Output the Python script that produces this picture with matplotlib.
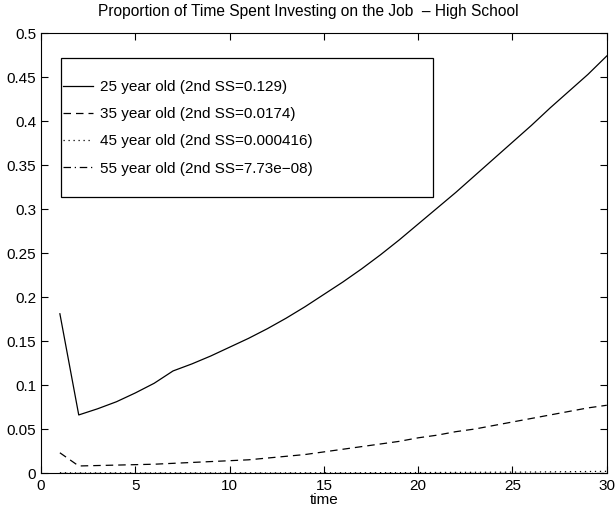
import matplotlib
matplotlib.use('Agg')
import matplotlib.pyplot as plt
from matplotlib.patches import Rectangle
import numpy as np

time = np.arange(1, 31)

age25 = [0.181, 0.066, 0.073, 0.081, 0.091, 0.102, 0.116, 0.124, 0.133, 0.143,
         0.153, 0.164, 0.176, 0.189, 0.203, 0.217, 0.232, 0.248, 0.265, 0.283,
         0.301, 0.319, 0.338, 0.357, 0.376, 0.395, 0.415, 0.434, 0.453, 0.474]
age35 = [0.023, 0.008, 0.0085, 0.009, 0.0095, 0.010, 0.011, 0.012, 0.013, 0.014,
         0.015, 0.017, 0.019, 0.021, 0.024, 0.027, 0.030, 0.033, 0.036, 0.040,
         0.043, 0.047, 0.050, 0.054, 0.058, 0.062, 0.066, 0.070, 0.074, 0.077]
age45 = [0.0003, 0.0001, 0.0001, 0.0001, 0.0001, 0.0001, 0.0001, 0.0001, 0.0001, 0.0001,
         0.0001, 0.0001, 0.0002, 0.0002, 0.0002, 0.0003, 0.0003, 0.0004, 0.0004, 0.0005,
         0.0006, 0.0007, 0.0008, 0.0009, 0.0010, 0.0011, 0.0013, 0.0015, 0.0017, 0.0019]
age55 = [0.0] * 30

labels = ['25 year old (2nd SS=0.129)',
          '35 year old (2nd SS=0.0174)',
          '45 year old (2nd SS=0.000416)',
          '55 year old (2nd SS=7.73e\u221208)']

plt.rcParams['font.family'] = ['Liberation Sans', 'DejaVu Sans']

fig = plt.figure(figsize=(6.16, 5.09), dpi=100)
ax = fig.add_axes([0.0666, 0.0707, 0.9184, 0.8643])

ax.plot(time, age25, color='black', lw=0.9, linestyle='-', label=labels[0])
ax.plot(time, age35, color='black', lw=0.9, linestyle=(0, (6, 4)), label=labels[1])
ax.plot(time, age45, color='black', lw=0.9, linestyle=(0, (1, 3)), label=labels[2])
ax.plot(time, age55, color='black', lw=0.9, linestyle=(0, (6, 3, 1, 3)), label=labels[3])

ax.set_xlim(0, 30)
ax.set_ylim(0, 0.5)
ax.set_xticks(np.arange(0, 31, 5))
yt = np.arange(0, 0.501, 0.05)
ax.set_yticks(yt)
ax.set_yticklabels(['0'] + ['%g' % v for v in yt[1:]])
ax.tick_params(direction='in', top=True, right=True, labelsize=11, length=5)
ax.tick_params(axis='x', pad=4)
ax.set_xlabel('time', fontsize=11, labelpad=0)
ax.set_title('Proportion of Time Spent Investing on the Job  \u2013 High School',
             fontsize=11.2, pad=12, x=0.472)

# MATLAB-style legend: wide frame drawn separately, entries inside
ax.add_patch(Rectangle((0.0353, 0.627), 0.6573, 0.316, transform=ax.transAxes,
                       fill=True, facecolor='white', edgecolor='black',
                       lw=0.9, zorder=4))
leg = ax.legend(loc='upper left', bbox_to_anchor=(0.038, 0.893), fontsize=11,
                frameon=False, borderpad=0, labelspacing=0.86,
                handlelength=2.0, handletextpad=0.45, borderaxespad=0)
leg.set_zorder(5)

fig.savefig('out.png', dpi=100)
